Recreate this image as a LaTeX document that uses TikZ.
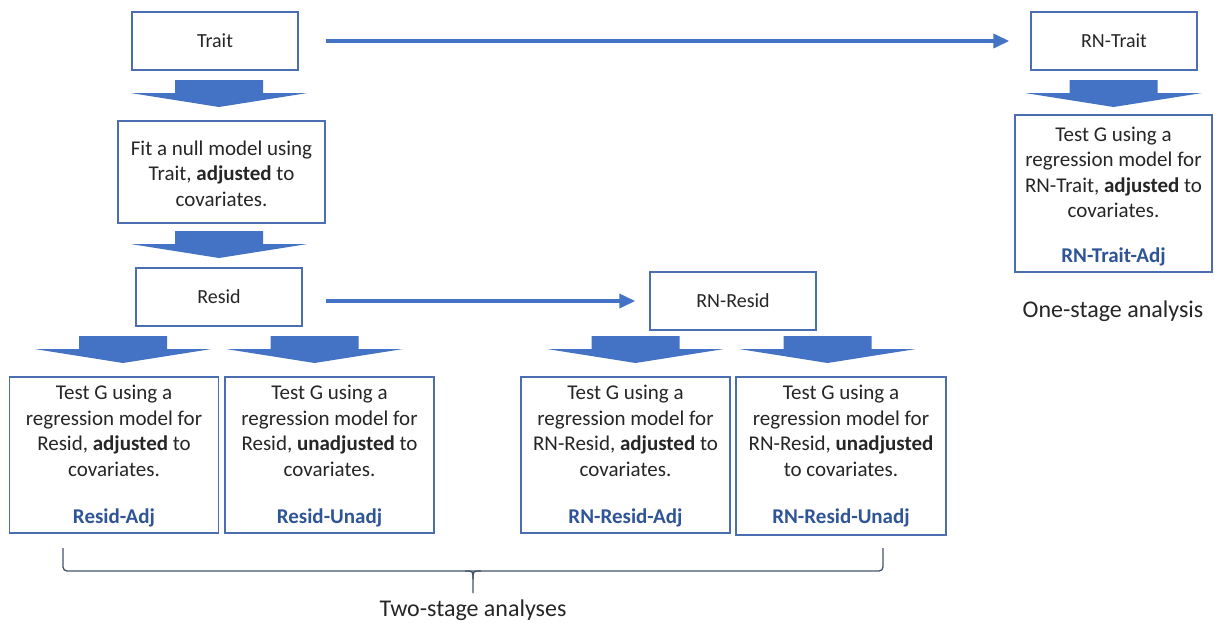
\documentclass[tikz,border=0pt]{standalone}
\usepackage{fontspec}
\setmainfont{Carlito}
\usetikzlibrary{arrows.meta,calc}
\definecolor{ablue}{HTML}{4472C4}
\definecolor{bblue}{HTML}{4A6EB0}
\definecolor{lblue}{HTML}{2F5597}
\definecolor{txt}{HTML}{262626}
\definecolor{brc}{HTML}{44546A}
\tikzset{
  box/.style={draw=bblue,line width=1.4pt,fill=white,inner sep=0pt},
  smallbox/.style={box,minimum width=166pt,minimum height=58pt,text=txt,font=\fontsize{20}{24}\selectfont},
  bigbox/.style={box,minimum width=209pt,minimum height=156pt},
  body/.style={text=txt,align=center,font=\fontsize{21}{25.5}\selectfont,inner sep=0pt},
  lab/.style={text=lblue,font=\fontsize{21}{25}\selectfont\bfseries,inner sep=0pt},
  note/.style={text=txt,font=\fontsize{24}{28}\selectfont,inner sep=0pt},
  conn/.style={draw=ablue,line width=3.6pt,-{Triangle[length=16pt,width=14pt]}},
  barrow/.pic={\fill[ablue] (-44,0) -- (44,0) -- (44,13) -- (88.5,13) -- (0,27) -- (-88.5,13) -- (-44,13) -- cycle;},
  bracec/.style={draw=brc,line width=1.3pt}
}
\begin{document}
\begin{tikzpicture}[x=1pt,y=-1pt]
\fill[white] (0,0) rectangle (1214,622);
\useasboundingbox (0,0) rectangle (1214,622);

% top row
\node[smallbox] (trait) at (215,41) {Trait};
\node[smallbox] (rntrait) at (1114,41) {RN-Trait};

% fit box
\node[box,minimum width=207pt,minimum height=102pt] (fit) at (221.5,172) {};
\node[body] (fittxt) at (221.5,173.5) {Fit a null model using\\Trait, \textbf{adjusted} to\\covariates.};

% resid
\node[smallbox] (resid) at (219,297) {Resid};
\node[smallbox] (rnresid) at (733,301) {RN-Resid};

% bottom boxes
\node[bigbox] (ra) at (114,455) {};
\node[body] (ratxt) at (114,431) {Test G using a\\regression model for\\Resid, \textbf{adjusted} to\\covariates.};
\node[lab] (ralab) at (114,518) {Resid-Adj};

\node[bigbox] (ru) at (329.5,455) {};
\node[body] (rutxt) at (329.5,431) {Test G using a\\regression model for\\Resid, \textbf{unadjusted} to\\covariates.};
\node[lab] (rulab) at (329.5,518) {Resid-Unadj};

\node[bigbox] (rra) at (625.5,455) {};
\node[body] (rratxt) at (625.5,431) {Test G using a\\regression model for\\RN-Resid, \textbf{adjusted} to\\covariates.};
\node[lab] (rralab) at (625.5,518) {RN-Resid-Adj};

\node[bigbox,minimum width=210pt,minimum height=158pt] (rru) at (841,456) {};
\node[body] (rrutxt) at (841,431) {Test G using a\\regression model for\\RN-Resid, \textbf{unadjusted}\\to covariates.};
\node[lab] (rrulab) at (841,518) {RN-Resid-Unadj};

% RN-Trait-Adj box
\node[box,minimum width=197pt,minimum height=157pt] (rta) at (1113.5,193.5) {};
\node[body] (rtatxt) at (1113.5,172.5) {Test G using a\\regression model for\\RN-Trait, \textbf{adjusted} to\\covariates.};
\node[lab] (rtalab) at (1113.5,257) {RN-Trait-Adj};

\node[note] (one) at (1113,311) {One-stage analysis};

% block arrows
\pic at (219,80) {barrow};
\pic at (219,231) {barrow};
\pic at (123,336) {barrow};
\pic at (314.5,336) {barrow};
\pic at (635.5,336) {barrow};
\pic at (827.5,336) {barrow};
\pic at (1113.5,80) {barrow};

% horizontal connectors
\draw[conn,shorten <=27pt,shorten >=21pt] (trait.east) -- (rntrait.west);
\draw[conn,shorten <=23pt,shorten >=14pt] (resid.east |- rnresid.west) -- (rnresid.west);

% brace
\coordinate (bl) at (63,548);
\coordinate (br) at (883,548);
\coordinate (bm) at (473,593);
\draw[bracec,rounded corners=4pt] (bl) -- (63,571) -- (883,571) -- (br);
\draw[bracec] (465,571) .. controls (473,571) .. (473,579) -- (bm);
\draw[bracec] (481,571) .. controls (473,571) .. (473,579);
\node[note] (two) at (473,610) {Two-stage analyses};
\end{tikzpicture}
\end{document}
